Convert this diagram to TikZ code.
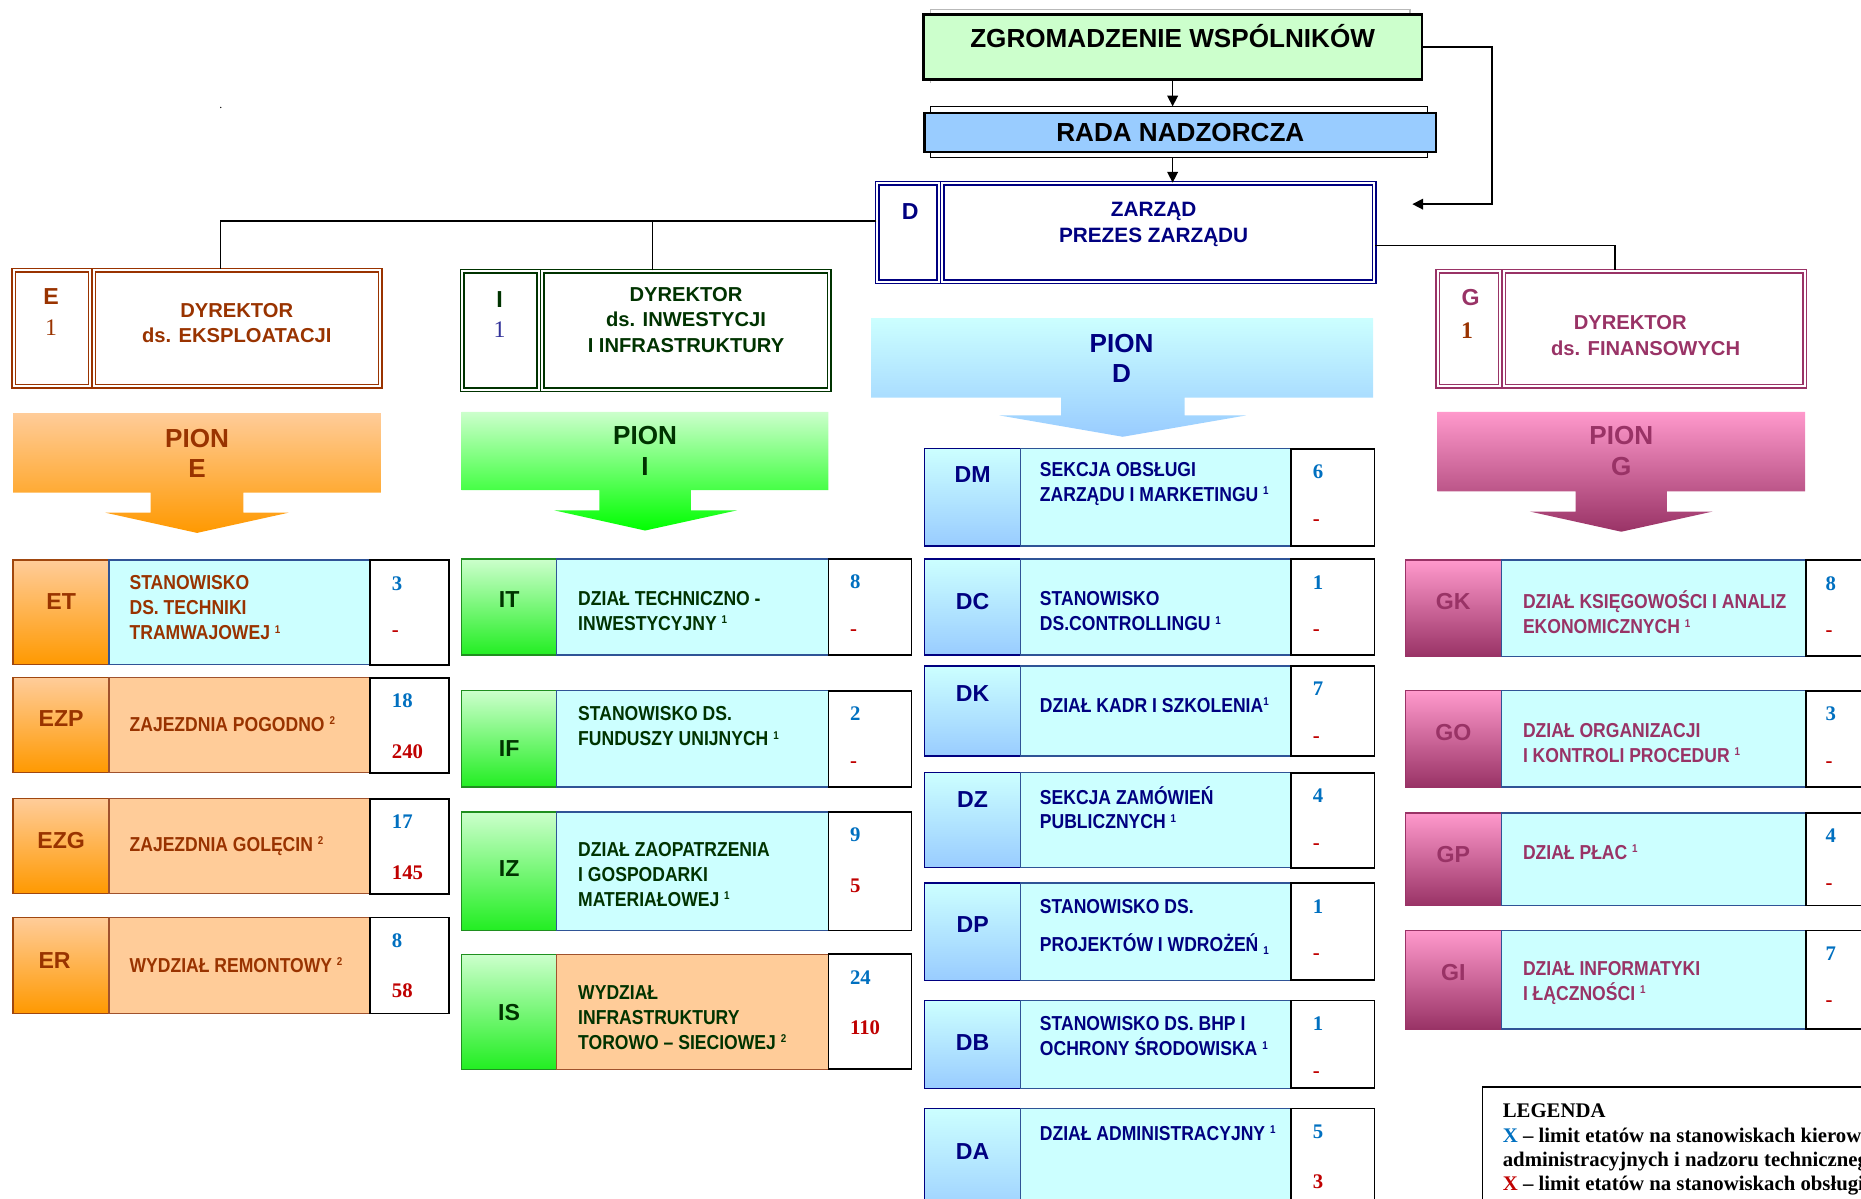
\documentclass[tikz,border=0pt]{standalone}
\usepackage{fontspec}
\setmainfont{Liberation Serif}
\setsansfont{Liberation Sans}
\newfontfamily\waski[FakeStretch=0.87]{Liberation Sans}
\usetikzlibrary{arrows.meta}

\definecolor{brazE}{HTML}{993300}
\definecolor{brazRam}{HTML}{A0470F}
\definecolor{zielI}{HTML}{003300}
\definecolor{zielRam}{HTML}{1F8F1F}
\definecolor{granD}{HTML}{000080}
\definecolor{fiolG}{HTML}{993366}
\definecolor{pomKr}{HTML}{FFCC99}
\definecolor{pomMoc}{HTML}{FF9900}
\definecolor{ziel1}{HTML}{CCFFCC}
\definecolor{ziel2}{HTML}{22EE22}
\definecolor{cyjan}{HTML}{CCFFFF}
\definecolor{nieb}{HTML}{99CCFF}
\definecolor{roz}{HTML}{FF99CC}
\definecolor{liczN}{HTML}{0070C0}
\definecolor{liczC}{HTML}{C00000}
\definecolor{ramkaN}{HTML}{2F5496}
\definecolor{ramkaB}{HTML}{A0522D}
\definecolor{ramkaI}{HTML}{333399}

\newcommand\przyp[2][5.5pt]{\raisebox{#1}{\fontsize{9.5}{9.5}\selectfont #2}}

\begin{document}
\begin{tikzpicture}[x=1pt, y=-1pt,
  tytul/.style={font=\sffamily\bfseries\fontsize{22}{22}\selectfont, inner sep=0pt},
  dwoj/.style={draw=#1, double=white, line width=1.3pt, double distance=1.6pt, inner sep=0pt},
  szef/.style={font=\sffamily\bfseries\fontsize{17}{21.5}\selectfont, align=center, inner sep=0pt},
  litera/.style={font=\sffamily\bfseries\fontsize{19.5}{19.5}\selectfont, inner sep=0pt},
  cyfra/.style={font=\rmfamily\fontsize{20}{20}\selectfont, inner sep=0pt},
  pion/.style={font=\sffamily\bfseries\fontsize{22}{26}\selectfont, align=center, inner sep=0pt},
  kod/.style={font=\sffamily\bfseries\fontsize{19.5}{19.5}\selectfont, inner sep=0pt},
  nazwa/.style={font=\waski\bfseries\fontsize{17}{21}\selectfont, anchor=west, align=left, inner sep=0pt},
  liczba/.style={font=\rmfamily\bfseries\fontsize{17.5}{17.5}\selectfont, anchor=west, inner sep=0pt},
  linia/.style={line width=1.3pt},
  strz/.style={line width=1.3pt, -{Triangle[length=9pt,width=9pt]}},
  komorka/.style={line width=1.2pt},
]
\useasboundingbox (0,0) rectangle (1568,1010);
\clip (0,0) rectangle (1568,1010);

% zgromadzenie, rada, zarzad
\draw[gray!55, line width=1.5pt] (784,70) -- (784,8) -- (1188,8) -- (1188,14);
\node[draw, line width=2.2pt, fill=ziel1, minimum width=420, minimum height=55, inner sep=0pt] (zgrom) at (988,39.5) {};
\node[tytul] (zgromT) at (988,30) {ZGROMADZENIE WSPÓLNIKÓW};
\node[draw, line width=0.8pt, fill=white, minimum width=419, minimum height=43] (radaR) at (993.5,111.5) {};
\node[draw, line width=2pt, fill=nieb, minimum width=431, minimum height=33, tytul] (rada) at (994.5,111.5) {RADA NADZORCZA};
\node[dwoj=granD, minimum width=52, minimum height=83] (zarzadL) at (765,196) {};
\node[dwoj=granD, minimum width=364, minimum height=83] (zarzad) at (976,196) {};
\node[szef, text=granD, font=\sffamily\bfseries\fontsize{17.5}{22}\selectfont] (zarzadT) at (972,189) {ZARZĄD\\PREZES ZARZĄDU};
\node[litera, text=granD] (zarzadD) at (767,178) {D};
\node[font=\fontsize{10}{10}\selectfont, inner sep=0pt] (kropka) at (186,91) {.};

\draw[strz] (zgrom.south) -- (zgrom.south |- radaR.north);
\draw[strz] (zgrom.south |- radaR.south) -- (zgrom.south |- zarzad.north);
\coordinate (powrot) at (1190,172);
\draw[strz] (zgrom.east) -- ++(58,0) |- (powrot);

% dyrektorzy
\node[dwoj=brazE, minimum width=64.5, minimum height=98] (litE) at (43.75,276.5) {};
\node[dwoj=brazE, minimum width=241.5, minimum height=98] (dirE) at (199.75,276.5) {};
\node[litera, text=brazE] (litEt) at (43,250) {E};
\node[cyfra, text=brazE] (litEc) at (43,276) {1};
\node[szef, text=brazE] (dirEt) at (199.5,272) {DYREKTOR\\ds. EKSPLOATACJI};

\node[dwoj=zielI, minimum width=64.5, minimum height=100] (litI) at (421.75,278.5) {};
\node[dwoj=zielI, minimum width=241.5, minimum height=100] (dirI) at (577.75,278.5) {};
\node[litera, text=zielI] (litIt) at (421,252) {I};
\node[cyfra, text=ramkaI] (litIc) at (421,278) {1};
\node[szef, text=zielI] (dirIt) at (578,269.5) {DYREKTOR\\ds. INWESTYCJI\\I INFRASTRUKTURY};

\node[dwoj=fiolG, minimum width=52.5, minimum height=97] (litG) at (1237.75,277) {};
\node[dwoj=fiolG, minimum width=253.5, minimum height=97] (dirG) at (1393.75,277) {};
\node[litera, text=fiolG] (litGt) at (1239,251) {G};
\node[cyfra, text=brazE, font=\rmfamily\bfseries\fontsize{20}{20}\selectfont] (litGc) at (1236,279) {1};
\node[szef, text=fiolG] (dirGt) at (1386.5,282.5) {DYREKTOR\hspace*{26pt}\\ds. FINANSOWYCH};

\draw[linia] ([yshift=10pt]zarzadL.west) -| ([xshift=-14pt]dirE.north);
\draw[line width=0.8pt] ([xshift=-28pt]dirI.north) |- ([yshift=10pt]zarzadL.west);
\draw[linia] ([yshift=-11pt]zarzad.east) -| ([xshift=-33pt]dirG.north);

% piony
\shade[top color=pomKr, bottom color=pomMoc] (11,348) -- (321,348) -- (321,415) -- (205,415) -- (205,432)
  -- (243,432) -- (166,449) -- (89,432) -- (127,432) -- (127,415) -- (11,415) -- cycle;
\node[pion, text=brazE] (pionE) at (166,382) {PION\\E};
\shade[top color=ziel1, bottom color=green] (389,347) -- (698,347) -- (698,413) -- (582,413) -- (582,430)
  -- (621,430) -- (543.5,447) -- (467,430) -- (505,430) -- (505,413) -- (389,413) -- cycle;
\node[pion, text=zielI] (pionI) at (543.5,380) {PION\\I};
\shade[top color=cyjan, bottom color=nieb] (734,268) -- (1157,268) -- (1157,335) -- (998,335) -- (998,350)
  -- (1050,350) -- (946,368) -- (842,350) -- (894,350) -- (894,335) -- (734,335) -- cycle;
\node[pion, text=granD] (pionD) at (945,302) {PION\\D};
\shade[top color=roz, bottom color=fiolG] (1211,347) -- (1521,347) -- (1521,414) -- (1404.5,414) -- (1404.5,431)
  -- (1443,431) -- (1366,448) -- (1289,431) -- (1327.5,431) -- (1327.5,414) -- (1211,414) -- cycle;
\node[pion, text=fiolG] (pionG) at (1366,380) {PION\\G};

% pion E
\foreach \kd/\xk/\ya/\yb/\yk/\yn/\tlo/\obr/\txt/\lA/\lB in {
  ET/51.5/472/560/507/512/cyjan/ramkaN/{STANOWISKO\\DS. TECHNIKI\\TRAMWAJOWEJ \przyp{1}}/3/-,
  EZP/51.5/571/651/605/610/pomKr/ramkaB/{ZAJEZDNIA POGODNO \przyp{2}}/18/240,
  EZG/51.5/673/753/708/713/pomKr/ramkaB/{ZAJEZDNIA GOLĘCIN \przyp{2}}/17/145,
  ER/46/773/854/809/813/pomKr/ramkaB/{WYDZIAŁ REMONTOWY \przyp{2}}/8/58} {
  \path[top color=pomKr, bottom color=pomMoc, draw=brazRam, komorka] (11,\ya) rectangle (92,\yb);
  \draw[fill=\tlo, draw=\obr, komorka] (92,\ya) rectangle (312,\yb);
  \draw[fill=white, line width=1.5pt] (312,\ya) rectangle (378.5,\yb);
  \node[kod, text=brazE] (\kd) at (\xk,\yk) {\kd};
  \node[nazwa, text=brazE] (\kd-n) at (109,\yn) {\txt};
  \node[liczba, text=liczN] (\kd-a) at (330,\ya+19.5) {\lA};
  \node[liczba, text=liczC] (\kd-b) at (330,\ya+62) {\lB};
}

% pion I
\foreach \kd/\ya/\yb/\yk/\yn/\tlo/\obr/\txt/\lA/\lB in {
  IT/471/552/505/514.5/cyjan/ramkaN/{DZIAŁ TECHNICZNO -\\INWESTYCYJNY \przyp{1}}/8/-,
  IF/582/663/631/612/cyjan/ramkaN/{STANOWISKO DS.\\FUNDUSZY UNIJNYCH \przyp{1}}/2/-,
  IZ/684/784/732/736.5/cyjan/ramkaN/{DZIAŁ ZAOPATRZENIA\\I GOSPODARKI\\MATERIAŁOWEJ \przyp{1}}/9/5,
  IS/804/901/853/857.5/pomKr/ramkaB/{WYDZIAŁ\\INFRASTRUKTURY\\TOROWO – SIECIOWEJ \przyp{2}}/24/110} {
  \path[top color=ziel1, bottom color=ziel2, draw=zielRam, komorka] (389,\ya) rectangle (469,\yb);
  \draw[fill=\tlo, draw=\obr, komorka] (469,\ya) rectangle (698,\yb);
  \draw[fill=white, line width=1.5pt] (698,\ya) rectangle (768,\yb);
  \node[kod, text=zielI] (\kd) at (429,\yk) {\kd};
  \node[nazwa, text=zielI] (\kd-n) at (487,\yn) {\txt};
  \node[liczba, text=liczN] (\kd-a) at (716,\ya+19.5) {\lA};
  \node[liczba, text=liczC] (\kd-b) at (716,\ya+62) {\lB};
}

% pion D
\foreach \kd/\ya/\yb/\yk/\yn/\txt/\lA/\lB in {
  DM/378/460/400/407.5/{SEKCJA OBSŁUGI\\ZARZĄDU I MARKETINGU \przyp{1}}/6/-,
  DC/471/552/507/515/{STANOWISKO\\DS.CONTROLLINGU \przyp{1}}/1/-,
  DK/561/637/584/594/{DZIAŁ KADR I SZKOLENIA\przyp{1}}/7/-,
  DZ/651/731/674/680.5/{SEKCJA ZAMÓWIEŃ\\PUBLICZNYCH \przyp{1}}/4/-,
  DP/744/826/779/781/{STANOWISKO DS.\\[11pt]PROJEKTÓW I WDROŻEŃ \przyp[-3pt]{1}}/1/-,
  DB/843/917/878/873/{STANOWISKO DS. BHP I\\OCHRONY ŚRODOWISKA \przyp{1}}/1/-,
  DA/934/1030/970/955/{DZIAŁ ADMINISTRACYJNY \przyp{1}}/5/3} {
  \path[top color=cyjan, bottom color=nieb, draw=granD, komorka] (779,\ya) rectangle (860,\yb);
  \draw[fill=cyjan, draw=ramkaN, komorka] (860,\ya) rectangle (1088,\yb);
  \draw[fill=white, line width=1.5pt] (1088,\ya) rectangle (1158,\yb);
  \node[kod, text=granD] (\kd) at (819.5,\yk) {\kd};
  \node[nazwa, text=granD] (\kd-n) at (876,\yn) {\txt};
  \node[liczba, text=liczN] (\kd-a) at (1106,\ya+19.5) {\lA};
  \node[liczba, text=liczC] (\kd-b) at (1106,\ya+62) {\lB};
}

% pion G
\foreach \kd/\ya/\yb/\yk/\yn/\txt/\lA/\lB in {
  GK/472/553/507/516/{DZIAŁ KSIĘGOWOŚCI I ANALIZ\\EKONOMICZNYCH \przyp{1}}/8/-,
  GO/582/663/617/626/{DZIAŁ ORGANIZACJI\\I KONTROLI PROCEDUR \przyp{1}}/3/-,
  GP/685/763/720/718/{DZIAŁ PŁAC \przyp{1}}/4/-,
  GI/784/867/819/828/{DZIAŁ INFORMATYKI\\I ŁĄCZNOŚCI \przyp{1}}/7/-} {
  \path[top color=roz, bottom color=fiolG, draw=fiolG, komorka] (1184,\ya) rectangle (1265,\yb);
  \draw[fill=cyjan, draw=ramkaN, komorka] (1265,\ya) rectangle (1521.5,\yb);
  \draw[fill=white, line width=1.5pt] (1521.5,\ya) rectangle (1600,\yb);
  \node[kod, text=fiolG] (\kd) at (1224.5,\yk) {\kd};
  \node[nazwa, text=fiolG] (\kd-n) at (1283,\yn) {\txt};
  \node[liczba, text=liczN] (\kd-a) at (1538,\ya+19.5) {\lA};
  \node[liczba, text=liczC] (\kd-b) at (1538,\ya+62) {\lB};
}

% legenda
\draw[line width=1.2pt] (1249,1030) -- (1249,916) -- (1600,916);
\node[anchor=north west, align=left, inner sep=0pt, font=\rmfamily\bfseries\fontsize{17.5}{20.5}\selectfont] (legenda) at (1266,930)
  {LEGENDA\\{\color{liczN}X} – limit etatów na stanowiskach kierowniczych,\\administracyjnych i nadzoru technicznego\\{\color{liczC}X} – limit etatów na stanowiskach obsługi};
\end{tikzpicture}
\end{document}
